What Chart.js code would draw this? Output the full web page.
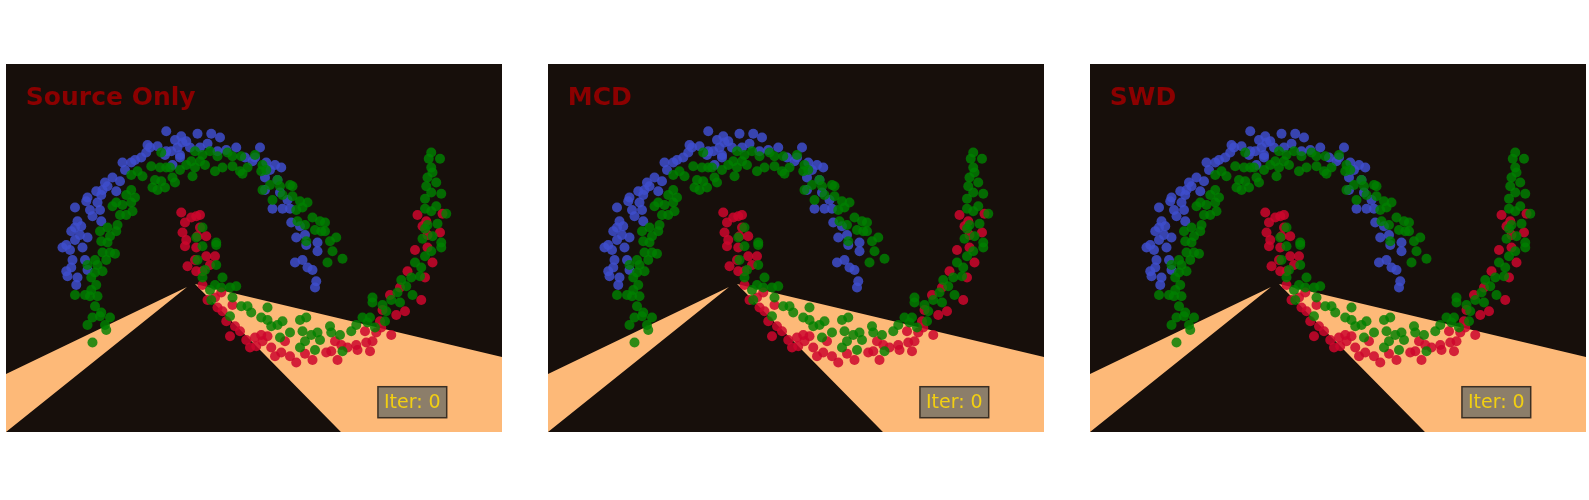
<!DOCTYPE html>
<html>
<head>
<meta charset="utf-8">
<script src="https://cdn.jsdelivr.net/npm/chart.js@4/dist/chart.umd.min.js"></script>
<style>
  html, body { margin: 0; padding: 0; background: #ffffff; }
  body { width: 1589px; height: 500px; position: relative; overflow: hidden; }
  .panel { position: absolute; top: 64px; width: 496px; height: 368px; }
</style>
</head>
<body>
<div class="panel" style="left:6px"><canvas id="c0" width="496" height="368"></canvas></div>
<div class="panel" style="left:548px"><canvas id="c1" width="496" height="368"></canvas></div>
<div class="panel" style="left:1090px"><canvas id="c2" width="496" height="368"></canvas></div>
<script>
// panel titles, same data in each panel (iteration 0)
const titles = ['Source Only', 'MCD', 'SWD']
const iterLabel = 'Iter: 0'

// source domain, class 0 (upper moon)
const sourceBlue = [
  [-0.23,1.15],[-0.16,1.08],[-0.11,1.11],[-0.10,1.06],[-0.14,1.02],[-0.19,0.99],[-0.23,0.99],[-0.12,0.96],[-0.07,1.07],[-0.36,1.02],
  [-0.39,0.98],[-0.38,1.04],[-0.43,0.94],[-0.48,0.92],[-0.51,0.90],[-0.58,0.90],[-0.56,0.84],[-0.60,0.75],[-0.72,0.74],[-0.70,0.71],
  [-0.74,0.68],[-0.79,0.67],[-0.63,0.67],[-0.75,0.64],[-0.86,0.62],[-0.87,0.59],[-0.78,0.58],[-0.76,0.52],[-0.96,0.54],[-0.82,0.47],
  [-0.75,0.43],[-0.94,0.43],[-0.96,0.38],[-0.91,0.39],[-0.99,0.35],[-0.92,0.32],[-0.86,0.30],[-0.96,0.28],[-1.03,0.24],[-0.24,0.96],
  [0.02,1.13],[0.13,1.13],[0.20,1.10],[-0.04,1.02],[0.04,1.02],[0.18,0.99],[0.25,1.00],[0.33,1.02],[0.52,1.02],[0.40,0.94],
  [0.48,0.94],[0.57,0.90],[0.64,0.88],[0.69,0.86],[0.56,0.78],[0.66,0.76],[0.56,0.68],[0.68,0.66],[0.62,0.53],[0.70,0.53],
  [0.76,0.53],[0.77,0.42],[0.84,0.39],[0.81,0.30],[0.88,0.32],[0.98,0.26],[-1.00,0.20],[-1.03,0.03],[-0.99,0.06],[-1.02,-0.01],
  [-0.94,-0.02],[-0.95,-0.08],[-0.88,0.12],[-0.86,0.04],[-1.06,0.22],[0.80,0.10],[0.86,0.12],[0.90,0.06],[0.94,0.04],[0.97,-0.05],
  [0.96,-0.10],[0.89,0.24],[0.98,0.19],[-0.12,0.94],[-0.18,0.88],[0.46,0.91],[-0.30,1.03],[-0.66,0.78],[-0.84,0.52],[0.10,1.05],
  [0.60,0.84],[0.74,0.60],[-0.90,0.22],[-0.98,0.12]
]

// source domain, class 1 (lower moon)
const sourceRed = [
  [-0.11,0.50],[-0.08,0.42],[-0.10,0.34],[-0.07,0.28],[0.01,0.47],[-0.03,0.46],[0.04,0.38],[0.09,0.31],[0.02,0.31],[-0.08,0.23],
  [-0.06,0.07],[0.01,0.22],[0.00,0.12],[0.09,0.15],[0.06,0.03],[0.01,0.03],[0.12,0.08],[0.10,-0.20],[0.16,-0.18],[0.22,-0.29],
  [0.25,-0.37],[0.32,-0.41],[0.36,-0.45],[0.28,-0.49],[0.41,-0.52],[0.48,-0.50],[0.53,-0.48],[0.58,-0.49],[0.49,-0.57],[0.61,-0.58],
  [0.64,-0.65],[0.69,-0.62],[0.76,-0.65],[0.81,-0.70],[0.88,-0.63],[0.94,-0.68],[0.54,-0.53],[0.72,-0.53],[0.21,-0.14],[0.30,-0.24],
  [0.16,0.15],[1.76,0.20],[1.86,0.22],[1.70,0.03],[1.84,-0.02],[1.81,-0.20],[1.68,-0.29],[1.61,-0.32],[1.56,-0.16],[1.50,-0.28],
  [1.48,-0.37],[1.57,-0.48],[1.49,-0.42],[1.45,-0.46],[1.36,-0.45],[1.42,-0.53],[1.37,-0.54],[1.29,-0.56],[1.30,-0.60],[1.40,-0.61],
  [1.12,-0.53],[1.17,-0.56],[1.09,-0.61],[1.14,-0.68],[1.05,-0.62],[1.78,0.48],[1.85,0.43],[1.82,0.39],[1.98,0.49],[1.96,0.34],
  [1.86,0.32],[0.04,0.48],[0.06,-0.08],[0.18,-0.26],[0.44,-0.58],[1.22,-0.58],[1.64,-0.10],[1.90,0.10]
]

// target domain (rotated moons, unlabeled)
const target = [
  [-0.27,0.98],[-0.35,0.87],[-0.51,0.80],[-0.46,0.83],[-0.42,0.79],[-0.28,0.86],[-0.23,0.86],[-0.20,0.86],[-0.12,0.84],[-0.07,0.88],
  [-0.18,0.78],[-0.16,0.74],[-0.32,0.76],[-0.27,0.75],[-0.34,0.70],[-0.30,0.68],[-0.24,0.70],[-0.51,0.68],[-0.55,0.64],[-0.48,0.62],
  [-0.51,0.58],[-0.63,0.58],[-0.66,0.55],[-0.58,0.56],[-0.50,0.51],[-0.60,0.48],[-0.55,0.48],[-0.62,0.40],[-0.70,0.38],[-0.76,0.35],
  [-0.68,0.31],[-0.63,0.35],[-0.75,0.27],[-0.70,0.26],[0.00,0.99],[0.06,0.96],[0.12,0.99],[0.18,0.95],[0.26,0.98],[0.30,0.95],
  [0.37,0.95],[0.48,0.96],[-0.03,0.91],[0.04,0.91],[0.08,0.88],[0.00,0.86],[-0.02,0.79],[0.16,0.83],[0.22,0.86],[0.30,0.87],
  [0.36,0.83],[0.42,0.86],[0.38,0.81],[0.54,0.88],[0.57,0.84],[0.53,0.83],[0.66,0.76],[0.60,0.72],[0.68,0.71],[0.76,0.72],
  [0.78,0.71],[0.54,0.68],[0.70,0.64],[0.78,0.63],[0.84,0.59],[0.90,0.58],[0.62,0.60],[0.81,0.52],[0.86,0.54],[0.94,0.46],
  [0.82,0.43],[0.88,0.40],[1.00,0.43],[0.96,0.36],[1.01,0.35],[0.89,0.27],[0.06,0.38],[0.01,0.30],[0.17,0.26],[1.89,0.98],
  [1.87,0.93],[1.96,0.93],[1.89,0.86],[1.90,0.82],[1.86,0.78],[1.93,0.74],[1.85,0.71],[1.89,0.66],[1.97,0.65],[1.84,0.61],
  [1.93,0.55],[1.84,0.53],[1.89,0.51],[2.01,0.49],[1.94,0.41],[1.86,0.40],[1.84,0.37],[1.90,0.31],[1.82,0.29],[1.97,0.26],
  [1.04,0.42],[1.04,0.35],[1.13,0.30],[1.08,0.27],[-0.74,0.18],[-0.68,0.18],[-0.64,0.17],[-0.71,0.12],[-0.80,0.12],[-0.86,0.08],
  [-0.78,0.08],[-0.74,0.03],[-0.80,0.02],[-0.83,-0.02],[-0.79,-0.08],[-0.83,-0.12],[-0.96,-0.16],[-0.88,-0.16],[-0.84,-0.17],[-0.78,-0.17],
  [-0.80,-0.25],[-0.75,-0.30],[-0.82,-0.34],[-0.68,-0.34],[-0.76,-0.33],[-0.86,-0.40],[-0.72,-0.40],[-0.71,-0.44],[-0.82,-0.54],[0.06,0.23],
  [0.17,0.24],[0.02,0.12],[0.08,0.04],[0.17,0.08],[0.22,-0.02],[0.06,-0.02],[0.16,-0.08],[0.12,-0.12],[0.21,-0.10],[0.28,-0.10],
  [0.33,-0.09],[0.13,-0.20],[0.30,-0.18],[0.37,-0.25],[0.42,-0.25],[0.45,-0.30],[0.58,-0.26],[0.53,-0.34],[0.58,-0.36],[0.66,-0.40],
  [0.70,-0.37],[0.61,-0.41],[0.76,-0.46],[0.68,-0.50],[0.84,-0.36],[0.89,-0.34],[0.86,-0.45],[0.88,-0.53],[0.84,-0.58],[0.96,-0.60],
  [0.98,-0.46],[0.93,-0.48],[1.00,-0.52],[0.28,-0.33],[1.89,0.19],[1.84,0.15],[1.97,0.22],[1.18,0.13],[1.06,0.10],[1.10,0.19],
  [1.76,0.10],[1.81,0.06],[1.73,-0.02],[1.80,-0.01],[1.65,-0.04],[1.69,-0.09],[1.74,-0.16],[1.62,-0.14],[1.57,-0.20],[1.64,-0.22],
  [1.42,-0.18],[1.42,-0.22],[1.50,-0.24],[1.53,-0.29],[1.40,-0.34],[1.34,-0.34],[1.38,-0.38],[1.52,-0.37],[1.44,-0.42],[1.29,-0.40],
  [1.25,-0.45],[1.08,-0.41],[1.16,-0.48],[1.09,-0.46],[1.18,-0.61]
]

// decision regions predicted as class 1 (two wedges)
const regionLeft = [[-0.064,-0.096],[-1.7,-0.882],[-1.7,-1.406],[-0.064,-0.096]]
const regionRight = [[0.0,-0.072],[2.7,-0.714],[2.7,-1.5],[1.408,-1.5],[0.0,-0.072]]

const toXY = pts => pts.map(p => ({ x: p[0], y: p[1] }))

const panelDecor = {
    id: 'panelDecor',
    beforeDraw(chart) {
        const { ctx, chartArea: a } = chart
        ctx.save()
        ctx.fillStyle = '#170f0b'
        ctx.fillRect(a.left, a.top, a.right - a.left, a.bottom - a.top)
        ctx.restore()
    },
    afterDatasetsDraw(chart, args, opts) {
        const { ctx, chartArea: a } = chart
        const w = a.right - a.left
        const h = a.bottom - a.top
        ctx.save()
        ctx.font = 'bold 25px "DejaVu Sans"'
        ctx.fillStyle = '#8b0000'
        ctx.textBaseline = 'alphabetic'
        ctx.fillText(opts.title, a.left + 0.04 * w, a.top + 0.112 * h)

        ctx.font = '19px "DejaVu Sans"'
        const tw = ctx.measureText(iterLabel).width
        const tx = a.left + 0.762 * w
        const ty = a.top + 0.934 * h
        ctx.fillStyle = '#8c7e6a'
        ctx.strokeStyle = '#3a2f24'
        ctx.lineWidth = 1.5
        ctx.fillRect(tx - 6, ty - 21, tw + 12, 31)
        ctx.strokeRect(tx - 6, ty - 21, tw + 12, 31)
        ctx.fillStyle = '#f2cf12'
        ctx.fillText(iterLabel, tx, ty)
        ctx.restore()
    }
}

const charts = titles.map((title, i) => {
    const element = document.getElementById('c' + i)
    return new Chart(element.getContext('2d'), {
        type: 'scatter',
        data: {
            datasets: [
                {
                    type: 'line',
                    data: toXY(regionLeft),
                    fill: 'shape',
                    backgroundColor: '#fdb978',
                    borderWidth: 0,
                    pointRadius: 0,
                    tension: 0,
                    order: 10
                },
                {
                    type: 'line',
                    data: toXY(regionRight),
                    fill: 'shape',
                    backgroundColor: '#fdb978',
                    borderWidth: 0,
                    pointRadius: 0,
                    tension: 0,
                    order: 9
                },
                {
                    label: 'source 0',
                    data: toXY(sourceBlue),
                    backgroundColor: 'rgba(62, 78, 205, 0.85)',
                    borderWidth: 0,
                    pointRadius: 5,
                    order: 3
                },
                {
                    label: 'source 1',
                    data: toXY(sourceRed),
                    backgroundColor: 'rgba(205, 6, 45, 0.85)',
                    borderWidth: 0,
                    pointRadius: 5,
                    order: 2
                },
                {
                    label: 'target',
                    data: toXY(target),
                    backgroundColor: 'rgba(0, 128, 0, 0.82)',
                    borderWidth: 0,
                    pointRadius: 5,
                    order: 1
                }
            ]
        },
        options: {
            responsive: false,
            animation: false,
            devicePixelRatio: 1,
            layout: { padding: 0, autoPadding: false },
            scales: {
                x: { type: 'linear', min: -1.512, max: 2.456, display: false },
                y: { type: 'linear', min: -1.256, max: 1.688, display: false }
            },
            plugins: {
                legend: { display: false },
                tooltip: { enabled: false },
                panelDecor: { title: title }
            }
        },
        plugins: [panelDecor]
    })
})
</script>
</body>
</html>
